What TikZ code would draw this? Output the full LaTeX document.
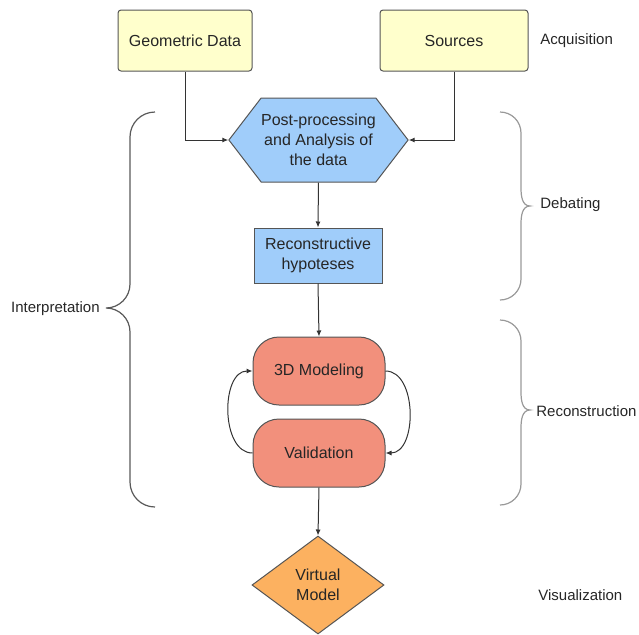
\documentclass[tikz,border=0pt]{standalone}
\usepackage{fontspec}
\setmainfont{Liberation Sans}
\usetikzlibrary{shapes.geometric,shapes.symbols,arrows.meta}
\definecolor{boxyellow}{HTML}{FFFFCC}
\definecolor{boxblue}{HTML}{A0CDFA}
\definecolor{boxsalmon}{HTML}{F2907C}
\definecolor{boxorange}{HTML}{FCB160}
\definecolor{edgegray}{HTML}{555555}
\tikzset{
  base/.style={draw=edgegray,line width=0.5pt,align=center,inner sep=0pt,
    font=\fontsize{8}{10}\selectfont,text=black!85},
  inputbox/.style={base,fill=boxyellow,rounded corners=1.5pt,minimum height=30.5pt},
  hexbox/.style={base,fill=boxblue,signal,signal to=west and east,
    signal pointer angle=105,minimum width=89.5pt,minimum height=42pt},
  hypbox/.style={base,fill=boxblue,minimum width=64pt,minimum height=27.5pt},
  loopbox/.style={base,fill=boxsalmon,rounded corners=13pt,minimum width=66pt,minimum height=34pt},
  outbox/.style={base,fill=boxorange,diamond,minimum width=66pt,minimum height=49pt},
  phase/.style={font=\fontsize{7.5}{9}\selectfont,text=black!85,inner sep=0pt},
  link/.style={draw=black!80,line width=0.5pt,-{Latex[length=3pt,width=2.5pt]}},
  curly/.style={line width=0.6pt},
}
\begin{document}
\begin{tikzpicture}[x=0.5pt,y=-0.5pt]
\useasboundingbox (0,0) rectangle (639,634);
% flow
\node[inputbox,minimum width=67pt] (geo) at (185,40.5) {Geometric Data};
\node[inputbox,minimum width=74pt] (src) at (454,40.5) {Sources};
\node[hexbox] (post) at (318.5,140) {Post-processing\\and Analysis of\\the data};
\node[hypbox] (hyp) at (318,255.5) {Reconstructive\\hypoteses};
\node[loopbox] (model) at (319,371) {3D Modeling};
\node[loopbox] (valid) at (319,453) {Validation};
\node[outbox] (virt) at (318,585) {Virtual\\Model};

\draw[link] (geo.south) |- (post.west);
\draw[link] (src.south) |- (post.east);
\draw[link] (post.south) -- (hyp.north);
\draw[link] (hyp.south) -- (model.north);
\draw[link] (valid.west) to[out=180,in=180] (model.west);
\draw[link] (model.east) to[out=0,in=0] (valid.east);
\draw[link] (valid.south) -- (virt.north);

% braces
\draw[curly,draw=black!65] (155,112) to[out=180,in=90] (130,137) -- (130,284)
  to[out=-90,in=0] (106,308) to[out=0,in=90] (130,332) -- (130,482) to[out=-90,in=180] (155,507);
\foreach \top/\tip/\bot in {112/206/300, 320/410/505}
{
    \draw[curly,draw=black!40] (500,\top) to[out=0,in=90] (521,\top+21) -- (521,\tip-18)
      to[out=-90,in=180] (530,\tip) to[out=180,in=90] (521,\tip+18) -- (521,\bot-21) to[out=-90,in=0] (500,\bot);
}

% phases
\node[phase,anchor=west] (acq) at (540,41) {Acquisition};
\node[phase,anchor=west] (deb) at (540,205) {Debating};
\node[phase,anchor=west] (rec) at (536,411) {Reconstruction};
\node[phase,anchor=west] (vis) at (538,595) {Visualization};
\node[phase,anchor=east] (int) at (100,309) {Interpretation};
\end{tikzpicture}
\end{document}
